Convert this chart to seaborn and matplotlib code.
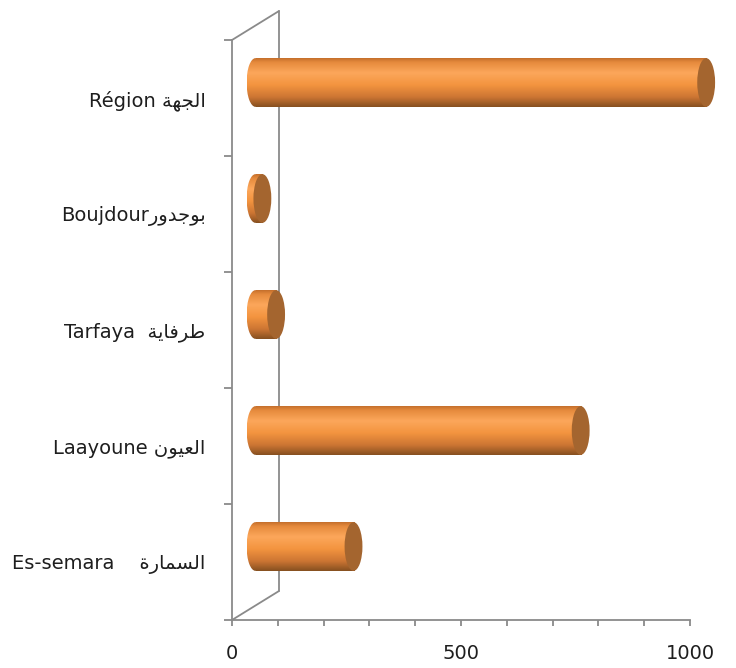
import numpy as np
import pandas as pd
import matplotlib
matplotlib.use("Agg")
import matplotlib.pyplot as plt
import seaborn as sns
from matplotlib.colors import LinearSegmentedColormap
from matplotlib.patches import Ellipse, ConnectionPatch
from matplotlib.transforms import ScaledTranslation

# data (top to bottom as in the chart)
latin_names = ["Région ", "Boujdour", "Tarfaya  ", "Laayoune ", "Es-semara    "]
# arabic names in visual order, presentation forms (matplotlib does no shaping)
arabic_names = [
    "\uFE94\uFEEC\uFEA0\uFEDF\uFE8D",            # الجهة
    "\uFEAD\uFEED\uFEAA\uFE9F\uFEEE\uFE91",      # بوجدور
    "\uFE94\uFEF3\uFE8E\uFED3\uFEAE\uFEC3",      # طرفاية
    "\uFEE5\uFEEE\uFEF4\uFECC\uFEDF\uFE8D",      # العيون
    "\uFE93\uFEAD\uFE8E\uFEE4\uFEB4\uFEDF\uFE8D",  # السمارة
]
values = [984, 15, 45, 710, 214]
x_major = [0, 500, 1000]
x_minor = list(range(0, 1001, 100))

tick_labels = [l + a for l, a in zip(latin_names, arabic_names)]
df = pd.DataFrame({"label": tick_labels, "value": values})

sns.set_style("white")
plt.rcParams["font.family"] = ["DejaVu Sans"]

grey = "#8A8A8A"
text_color = "#1E1E1E"
cap_color = "#A4652F"
cyl_cmap = LinearSegmentedColormap.from_list("cyl", [
    (0.0, "#C46F2C"), (0.08, "#E58A3C"), (0.3, "#FCA75B"),
    (0.55, "#F3943F"), (0.8, "#CC7533"), (1.0, "#865020")])

fig = plt.figure(figsize=(7.36, 6.68), dpi=100)
ax = fig.add_axes([232 / 736, 48 / 668, 458 / 736, 580 / 668])

sns.barplot(data=df, x="value", y="label", order=tick_labels, orient="h",
            width=0.42, color="#F79646", ax=ax)

# 3d look: bars sit in the middle of the depth, back wall at full depth
half_depth = ax.transData + ScaledTranslation(0.235, 0.155, fig.dpi_scale_trans)
full_depth = ax.transData + ScaledTranslation(0.47, 0.29, fig.dpi_scale_trans)

grad = np.linspace(0, 1, 200).reshape(-1, 1)
cap_w = 39

for p in list(ax.patches):
    x0, w, y0, h = p.get_x(), p.get_width(), p.get_y(), p.get_height()
    yc = y0 + h / 2
    p.set_transform(half_depth)
    p.set_facecolor("none")
    p.set_edgecolor("none")
    p.set_clip_on(False)

    left = Ellipse((x0, yc), cap_w, h, transform=half_depth,
                   facecolor="none", edgecolor="none", clip_on=False)
    ax.add_patch(left)
    for clip, ext in [(p, (x0, x0 + w, y0 + h, y0)),
                      (left, (x0 - cap_w / 2, x0, y0 + h, y0))]:
        im = ax.imshow(grad, cmap=cyl_cmap, aspect="auto", extent=ext,
                       origin="upper", interpolation="bilinear", zorder=3)
        im.set_transform(half_depth)
        im.set_clip_path(clip)

    ax.add_patch(Ellipse((x0 + w, yc), cap_w, h, transform=half_depth,
                         facecolor=cap_color, edgecolor="none", zorder=4,
                         clip_on=False))

ax.set_xlim(0, 1000)
ax.set_ylim(4.5, -0.5)

# back wall and floor/top edges
ax.plot([0, 0], [-0.5, 4.5], transform=full_depth, color=grey, lw=1.3,
        zorder=1, clip_on=False)
for yy in (-0.5, 4.5):
    con = ConnectionPatch(xyA=(0, yy), coordsA=ax.transData,
                          xyB=(0, yy), coordsB=full_depth,
                          color=grey, lw=1.3, zorder=1)
    ax.add_artist(con)

for side in ("top", "right"):
    ax.spines[side].set_visible(False)
for side in ("left", "bottom"):
    ax.spines[side].set_color(grey)
    ax.spines[side].set_linewidth(1.3)

ax.set_xticks(x_major)
ax.set_xticks(x_minor, minor=True)
ax.set_xticklabels([str(v) for v in x_major])
ax.tick_params(axis="x", which="both", bottom=True, direction="out",
               length=4.5, width=1.3, color=grey, labelsize=14, pad=13,
               labelcolor=text_color)
ax.set_yticks(range(len(tick_labels)))
ax.set_yticklabels(tick_labels)
ax.set_yticks(np.arange(-0.5, len(tick_labels)), minor=True)
ax.tick_params(axis="y", which="major", left=True, length=0, labelsize=14,
               pad=19, labelcolor=text_color)
ax.tick_params(axis="y", which="minor", left=True, direction="out",
               length=6, width=1.3, color=grey)
ax.set_xlabel("")
ax.set_ylabel("")

fig.savefig("out.png", dpi=100)
